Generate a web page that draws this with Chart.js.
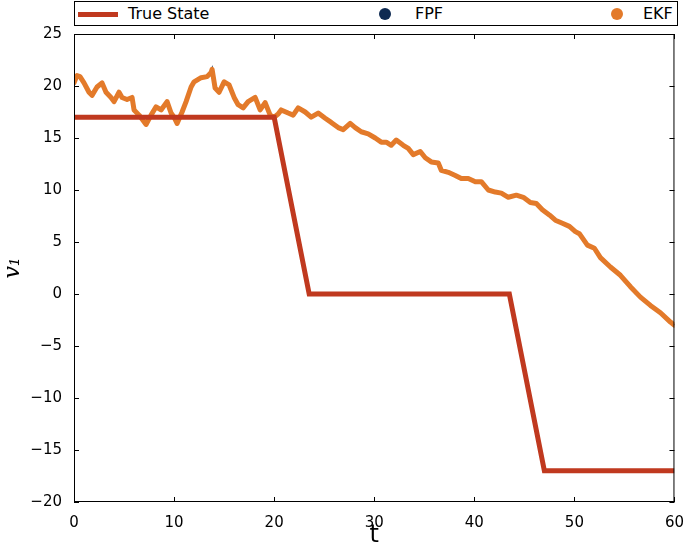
<!DOCTYPE html>
<html>
<head>
<meta charset="utf-8">
<script src="https://cdn.jsdelivr.net/npm/chart.js@4.4.1/dist/chart.umd.min.js"></script>
<style>
  body { margin: 0; background: #fff; }
  #wrap { position: relative; width: 688px; height: 552px; }
  #legend {
    position: absolute; left: 74px; top: 1px; width: 602px; height: 23px;
    border: 1px solid #000; background: #fff;
    font-family: "DejaVu Sans", sans-serif; font-size: 16px; color: #000;
  }
  #legend span { position: absolute; top: 2px; }
  .swatch { position: absolute; left: 3px; top: 10px; width: 40px; height: 5px; background: #C0391F; }
  .dot { position: absolute; top: 6px; width: 12px; height: 12px; border-radius: 50%; }
</style>
</head>
<body>
<div id="wrap">
  <canvas id="chart1" width="688" height="552"></canvas>
  <div id="legend">
    <div class="swatch"></div><span style="left:53px">True State</span>
    <div class="dot" style="left:304px;background:#0E2A52"></div><span style="left:340px">FPF</span>
    <div class="dot" style="left:536px;background:#E37A2A"></div><span style="left:568px">EKF</span>
  </div>
</div>
<script>
// true state (piecewise linear)
const trueT = [0, 20, 23.5, 43.5, 47, 60];
const trueV = [17, 17, 0, 0, -17, -17];

// filter estimate (FPF sits exactly under EKF)
const estT = [0, 0.3, 0.6, 1.0, 1.5, 1.8, 2.3, 2.8, 3.2, 3.7, 4.0, 4.5, 4.8, 5.3, 5.8, 6.0, 6.5, 7.2, 7.7, 8.2,
    8.7, 9.3, 9.7, 10.0, 10.3, 10.8, 11.2, 11.7, 12.0, 12.7, 13.3, 13.7, 13.8, 14.1, 14.5, 15.0, 15.5, 16.0, 16.4, 16.9,
    17.4, 18.1, 18.6, 19.1, 19.6, 20.0, 20.4, 20.7, 21.4, 21.9, 22.4, 23.1, 23.7, 24.4, 25.1, 25.7, 26.4, 26.9, 27.6, 28.1,
    28.7, 29.4, 30.1, 30.7, 31.2, 31.7, 32.2, 32.9, 33.4, 33.9, 34.6, 35.1, 35.7, 36.4, 36.7, 37.4, 38.1, 38.7, 39.4, 40.1,
    40.7, 41.4, 42.1, 42.7, 43.4, 44.2, 44.9, 45.6, 46.2, 46.8, 47.5, 48.1, 48.8, 49.5, 50.1, 50.5, 51.3, 52.0, 52.6, 53.6,
    54.6, 55.6, 56.6, 57.6, 58.6, 59.6, 60];
const ekfV = [20.3, 21.0, 20.9, 20.3, 19.4, 19.1, 19.9, 20.3, 19.4, 18.9, 18.5, 19.4, 18.9, 18.7, 18.9, 17.7, 17.2, 16.3, 17.2, 18.0,
    17.7, 18.5, 17.4, 17.0, 16.4, 17.5, 18.5, 19.9, 20.4, 20.8, 20.9, 21.3, 21.6, 19.8, 19.4, 20.4, 20.1, 18.9, 18.2, 17.9,
    18.5, 18.9, 17.7, 18.4, 17.2, 17.0, 17.3, 17.7, 17.4, 17.2, 17.9, 17.5, 17.0, 17.4, 16.9, 16.5, 16.0, 15.8, 16.4, 16.0,
    15.6, 15.4, 15.0, 14.6, 14.6, 14.3, 14.8, 14.3, 14.0, 13.4, 13.7, 13.1, 12.7, 12.6, 11.9, 11.7, 11.4, 11.1, 11.1, 10.8,
    10.8, 10.0, 9.8, 9.7, 9.3, 9.5, 9.3, 8.8, 8.7, 8.1, 7.6, 7.1, 6.8, 6.5, 6.0, 5.8, 4.7, 4.4, 3.5, 2.6,
    1.8, 0.7, -0.3, -1.1, -1.8, -2.7, -3.0];
const fpfV = ekfV.slice();

const xTicks = [0, 10, 20, 30, 40, 50, 60];
const yTicks = [-20, -15, -10, -5, 0, 5, 10, 15, 20, 25];

function pts(xs, ys) {
    return xs.map((x, i) => ({ x: x, y: ys[i] }));
}

// frame + inward tick marks on all four sides, like matplotlib classic
const frameTicks = {
    id: "frameTicks",
    afterDraw(chart) {
        const c = chart.ctx, a = chart.chartArea;
        const xs = chart.scales.x, ys = chart.scales.y;
        c.save();
        c.strokeStyle = "#000";
        c.lineWidth = 1;
        c.strokeRect(a.left + 0.5, a.top + 0.5, a.right - a.left - 1, a.bottom - a.top - 1);
        c.beginPath();
        xTicks.forEach(v => {
            const p = Math.round(xs.getPixelForValue(v)) + 0.5;
            c.moveTo(p, a.bottom); c.lineTo(p, a.bottom - 5);
            c.moveTo(p, a.top); c.lineTo(p, a.top + 5);
        });
        yTicks.forEach(v => {
            const p = Math.round(ys.getPixelForValue(v)) + 0.5;
            c.moveTo(a.left, p); c.lineTo(a.left + 5, p);
            c.moveTo(a.right, p); c.lineTo(a.right - 5, p);
        });
        c.stroke();
        c.restore();
    }
};

const ctx = document.getElementById("chart1").getContext("2d");
const stateChart = new Chart(ctx, {
    type: "line",
    data: {
        datasets: [{
            label: "FPF",
            data: pts(estT, fpfV),
            borderColor: "#0E2A52",
            borderWidth: 2,
            pointRadius: 0,
            order: 3
        }, {
            label: "EKF",
            data: pts(estT, ekfV),
            borderColor: "#E37A2A",
            borderWidth: 5,
            borderJoinStyle: "round",
            borderCapStyle: "round",
            pointRadius: 0,
            order: 2
        }, {
            label: "True State",
            data: pts(trueT, trueV),
            borderColor: "#C0391F",
            borderWidth: 5,
            pointRadius: 0,
            order: 1
        }]
    },
    options: {
        responsive: false,
        animation: false,
        layout: { padding: { top: 34, right: 9, left: 0, bottom: 0 } },
        scales: {
            x: {
                type: "linear",
                min: 0, max: 60,
                afterFit(s) { s.height = 50; },
                afterBuildTicks(s) { s.ticks = xTicks.map(v => ({ value: v })); },
                grid: { display: false },
                border: { display: false },
                ticks: { color: "#000", padding: 4, maxRotation: 0, font: { family: "DejaVu Sans", size: 15 } },
                title: { display: true, text: "t", color: "#000", padding: { top: 0, bottom: 2 }, font: { family: "DejaVu Sans", size: 24 } }
            },
            y: {
                min: -20, max: 25,
                afterFit(s) { s.width = 74; },
                afterBuildTicks(s) { s.ticks = yTicks.map(v => ({ value: v })); },
                grid: { display: false },
                border: { display: false },
                ticks: {
                    color: "#000", padding: 4, font: { family: "DejaVu Sans", size: 15 },
                    callback: v => String(v).replace("-", "\u2212")
                },
                title: { display: true, text: "v\u2081", color: "#000", padding: { top: 0, bottom: 4 },
                    font: { family: "DejaVu Serif", style: "italic", size: 22 } }
            }
        },
        plugins: {
            legend: { display: false },
            tooltip: { enabled: false }
        }
    },
    plugins: [frameTicks]
});
</script>
</body>
</html>
